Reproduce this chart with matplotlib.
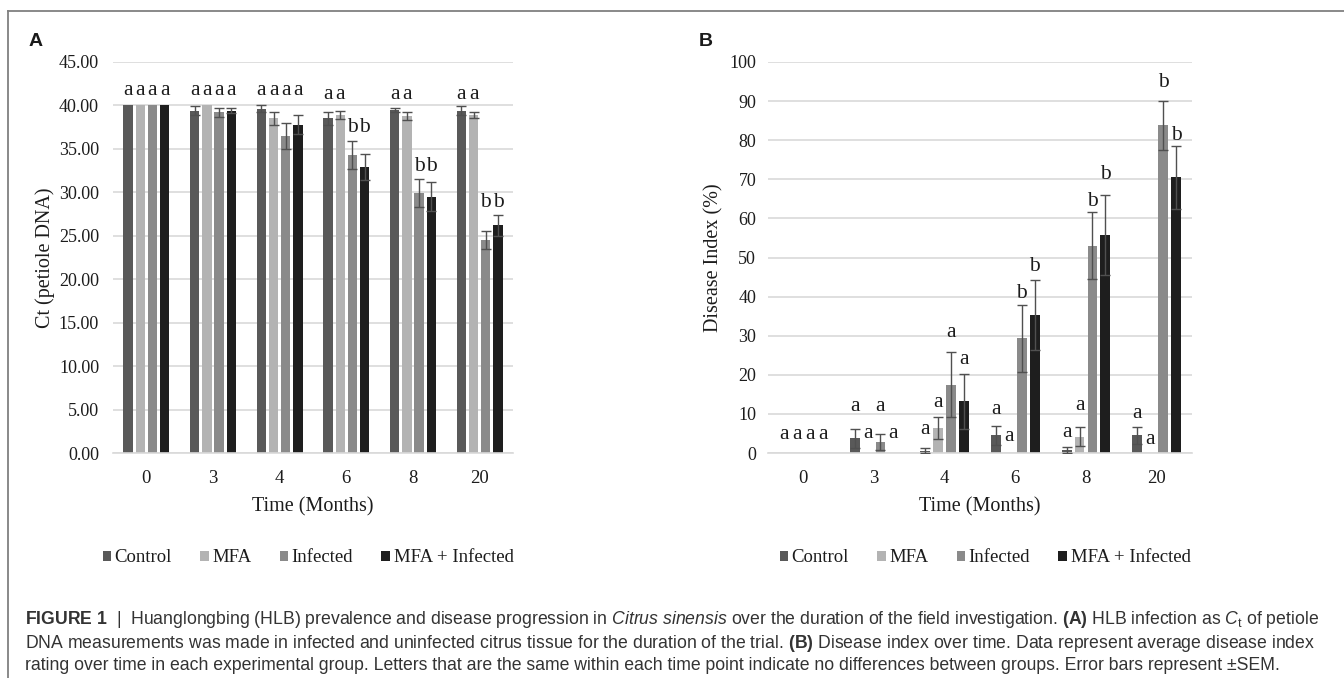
import numpy as np
import matplotlib
matplotlib.use("Agg")
import matplotlib.pyplot as plt
from matplotlib import font_manager
from matplotlib.lines import Line2D
from matplotlib.patches import Patch

# ---- data ----
months = ["0", "3", "4", "6", "8", "20"]
groups = ["Control", "MFA", "Infected", "MFA + Infected"]
colors = ["#595959", "#b3b3b3", "#8a8a8a", "#1e1e1e"]

# panel A: Ct of petiole DNA
ct_control = [40.0, 39.4, 39.6, 38.5, 39.5, 39.4]
ct_mfa = [40.0, 40.0, 38.5, 38.9, 38.8, 38.9]
ct_infected = [40.0, 39.2, 36.5, 34.3, 29.9, 24.5]
ct_mfa_inf = [40.0, 39.4, 37.8, 32.9, 29.5, 26.2]
ct_err_control = [0.0, 0.5, 0.4, 0.7, 0.2, 0.5]
ct_err_mfa = [0.0, 0.0, 0.8, 0.5, 0.5, 0.4]
ct_err_infected = [0.0, 0.5, 1.5, 1.6, 1.6, 1.0]
ct_err_mfa_inf = [0.0, 0.3, 1.1, 1.5, 1.7, 1.2]
ct_let_control = ["a", "a", "a", "a", "a", "a"]
ct_let_mfa = ["a", "a", "a", "a", "a", "a"]
ct_let_infected = ["a", "a", "a", "b", "b", "b"]
ct_let_mfa_inf = ["a", "a", "a", "b", "b", "b"]
ct_let_y_control = [41.2, 41.2, 41.2, 40.7, 40.7, 40.7]
ct_let_y_mfa = [41.2, 41.2, 41.2, 40.7, 40.7, 40.7]
ct_let_y_infected = [41.2, 41.2, 41.2, 37.0, 32.4, 28.3]
ct_let_y_mfa_inf = [41.2, 41.2, 41.2, 37.0, 32.4, 28.3]

# panel B: disease index (%)
di_control = [0.0, 3.8, 0.6, 4.5, 0.7, 4.5]
di_mfa = [0.0, 0.0, 6.3, 0.0, 4.2, 0.0]
di_infected = [0.0, 2.8, 17.5, 29.3, 53.0, 83.8]
di_mfa_inf = [0.0, 0.0, 13.2, 35.3, 55.7, 70.5]
di_err_control = [0.0, 2.4, 0.6, 2.4, 0.75, 2.2]
di_err_mfa = [0.0, 0.0, 2.8, 0.0, 2.4, 0.0]
di_err_infected = [0.0, 2.1, 8.4, 8.6, 8.6, 6.2]
di_err_mfa_inf = [0.0, 0.0, 7.1, 8.9, 10.3, 8.1]
di_let_control = ["a", "a", "a", "a", "a", "a"]
di_let_mfa = ["a", "a", "a", "a", "a", "a"]
di_let_infected = ["a", "a", "a", "b", "b", "b"]
di_let_mfa_inf = ["a", "a", "a", "b", "b", "b"]
di_let_y_control = [3.5, 10.7, 4.9, 10.1, 4.0, 9.0]
di_let_y_mfa = [3.5, 3.9, 11.8, 3.1, 11.0, 2.2]
di_let_y_infected = [3.5, 10.7, 29.6, 39.7, 63.2, 93.7]
di_let_y_mfa_inf = [3.5, 3.8, 22.7, 46.6, 70.1, 80.1]

caption_lines = [
    r"$\mathbf{FIGURE\ 1}$  |  Huanglongbing (HLB) prevalence and disease progression in "
    r"$\mathit{Citrus\ sinensis}$ over the duration of the field investigation. "
    r"$\mathbf{(A)}$ HLB infection as $\mathit{C}_{\mathrm{t}}$ of petiole",
    r"DNA measurements was made in infected and uninfected citrus tissue for the duration "
    r"of the trial. $\mathbf{(B)}$ Disease index over time. Data represent average disease index",
    "rating over time in each experimental group. Letters that are the same within each time "
    "point indicate no differences between groups. Error bars represent \u00b1SEM.",
]

# ---- fonts ----
names = {f.name for f in font_manager.fontManager.ttflist}
cap_font = "Liberation Sans Narrow" if "Liberation Sans Narrow" in names else "Liberation Sans"
plt.rcParams["font.family"] = ["Liberation Serif", "DejaVu Serif"]
plt.rcParams["mathtext.fontset"] = "custom"
plt.rcParams["mathtext.rm"] = cap_font
plt.rcParams["mathtext.it"] = cap_font + ":italic"
plt.rcParams["mathtext.bf"] = cap_font + ":bold"

W, H = 1344, 678
fig = plt.figure(figsize=(W / 100, H / 100), dpi=100)

text_col = "#1c1c1c"
grid_col = "#d9d9d9"


def draw_panel(ax, series, errs, lets, let_y, ymax, yticks, fmt, ylabel, ypad):
    x = np.arange(len(months))
    pitch, width = 0.183, 0.14
    for i, (vals, err, lt, ly) in enumerate(zip(series, errs, lets, let_y)):
        pos = x + (i - 1.5) * pitch
        ax.bar(pos, vals, width, color=colors[i], zorder=2)
        vals = np.array(vals)
        err = np.array(err)
        m = err > 0
        ax.errorbar(pos[m], vals[m], yerr=err[m], fmt="none", ecolor="#505050",
                    elinewidth=1.0, capsize=3.5, capthick=1.0, zorder=3)
        for p, s, yy in zip(pos, lt, ly):
            ax.text(p, yy, s, ha="center", va="baseline", fontsize=15.5, color=text_col)
    ax.set_xlim(-0.5, len(months) - 0.5)
    ax.set_ylim(0, ymax)
    ax.set_xticks(x)
    ax.set_xticklabels(months)
    ax.set_yticks(yticks)
    ax.set_yticklabels([fmt.format(v) for v in yticks])
    ax.tick_params(axis="x", length=0, pad=12, labelsize=13.5, labelcolor=text_col)
    ax.tick_params(axis="y", length=0, pad=ypad, labelsize=13, labelcolor=text_col)
    ax.yaxis.grid(True, color=grid_col, lw=1.2)
    ax.set_axisbelow(True)
    for side in ["top", "right", "left"]:
        ax.spines[side].set_visible(False)
    ax.spines["bottom"].set_color(grid_col)
    ax.spines["bottom"].set_linewidth(1.2)
    ax.set_xlabel("Time (Months)", fontsize=14.5, color=text_col)
    ax.xaxis.set_label_coords(0.5, -0.113)
    ax.set_ylabel(ylabel, fontsize=14.5, color=text_col, va="center")


axA = fig.add_axes([113 / W, 1 - 453 / H, 400 / W, 391 / H])
draw_panel(axA,
           [ct_control, ct_mfa, ct_infected, ct_mfa_inf],
           [ct_err_control, ct_err_mfa, ct_err_infected, ct_err_mfa_inf],
           [ct_let_control, ct_let_mfa, ct_let_infected, ct_let_mfa_inf],
           [ct_let_y_control, ct_let_y_mfa, ct_let_y_infected, ct_let_y_mfa_inf],
           45, np.arange(0, 46, 5), "{:.2f}", "Ct (petiole DNA)", 10)
axA.yaxis.set_label_coords((45 - 113) / 400, 0.5)

axB = fig.add_axes([768 / W, 1 - 453 / H, 424 / W, 391 / H])
draw_panel(axB,
           [di_control, di_mfa, di_infected, di_mfa_inf],
           [di_err_control, di_err_mfa, di_err_infected, di_err_mfa_inf],
           [di_let_control, di_let_mfa, di_let_infected, di_let_mfa_inf],
           [di_let_y_control, di_let_y_mfa, di_let_y_infected, di_let_y_mfa_inf],
           100, np.arange(0, 101, 10), "{:.0f}", "Disease Index (%)", 8.5)
axB.yaxis.set_label_coords((714 - 768) / 424, 0.5)

# legends
handles = [Patch(facecolor=c, edgecolor="none") for c in colors]
for cx in [308, 985]:
    fig.legend(handles, groups, loc="center", bbox_to_anchor=(cx / W, 1 - 558 / H),
               ncol=4, frameon=False, fontsize=13.5, handlelength=0.45, handleheight=0.45,
               handletextpad=0.2, columnspacing=1.5, labelcolor=text_col)

# panel letters
fig.text(36 / W, 1 - 42 / H, "A", fontsize=14, fontweight="bold", family="Liberation Sans",
         ha="center", va="center", color="#1a1a1a")
fig.text(706 / W, 1 - 42 / H, "B", fontsize=14, fontweight="bold", family="Liberation Sans",
         ha="center", va="center", color="#1a1a1a")

# frame lines
fig.add_artist(Line2D([8 / W, 1], [1 - 11 / H, 1 - 11 / H], transform=fig.transFigure,
                      color="#808080", lw=1.3))
fig.add_artist(Line2D([8 / W, 8 / W], [1 - 11 / H, 0], transform=fig.transFigure,
                      color="#808080", lw=1.3))

# caption
cap_texts = []
for line, yy in zip(caption_lines, [619, 643, 665]):
    t = fig.text(25 / W, 1 - yy / H, line, fontsize=12.5, family=cap_font,
                 ha="left", va="center", color="#333333")
    cap_texts.append(t)

# fit caption width to the reference line length
fig.canvas.draw()
bb = cap_texts[0].get_window_extent()
scale = (1322 - 25) / bb.width
for t in cap_texts:
    t.set_fontsize(12.5 * scale)

fig.savefig("out.png", dpi=100)
